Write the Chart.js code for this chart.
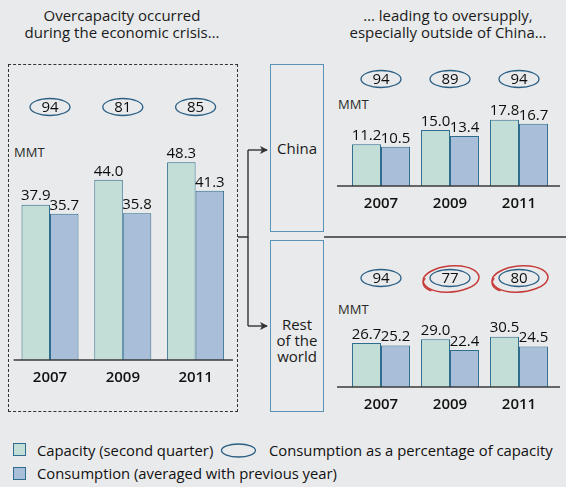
<!DOCTYPE html>
<html>
<head>
<meta charset="utf-8">
<script src="https://cdn.jsdelivr.net/npm/chart.js@4.4.0/dist/chart.umd.min.js"></script>
<style>
  body { margin: 0; background: #e9eaeb; font-family: "Open Sans", sans-serif; color: #111; }
  #wrap { position: relative; width: 566px; height: 487px; overflow: hidden; }
  .abs { position: absolute; }
  canvas { position: absolute; }
  .title { font-size: 15px; line-height: 17px; text-align: center; color: #1a1a1a; }
  .mmt { font-size: 13px; color: #2a2a2a; }
  .box { box-sizing: border-box; border: 1.5px solid #5a93b5; }
  .lg { font-size: 14.8px; color: #111; white-space: nowrap; }
  .sw { position: absolute; width: 13px; height: 13px; box-sizing: border-box; border: 1px solid #2f6d8f; }
</style>
</head>
<body>
<div id="wrap">
  <div class="abs title" style="left:2px;top:7px;width:240px;">Overcapacity occurred<br>during the economic crisis…</div>
  <div class="abs title" style="left:318px;top:7px;width:260px;">… leading to oversupply,<br>especially outside of China…</div>

  <div class="abs" style="left:8px;top:64px;width:230px;height:348px;box-sizing:border-box;border:1.3px dashed #333;"></div>
  <div class="abs box" style="left:270px;top:64px;width:54px;height:168px;"></div>
  <div class="abs box" style="left:270px;top:240px;width:54px;height:172px;"></div>
  <div class="abs title" style="left:270px;top:140px;width:54px;font-size:15px;">China</div>
  <div class="abs title" style="left:270px;top:316px;width:54px;font-size:15px;line-height:16px;">Rest<br>of the<br>world</div>

  <svg class="abs" style="left:0;top:0" width="566" height="487">
    <defs>
      <marker id="ar" markerWidth="8" markerHeight="8" refX="7" refY="4" orient="auto" markerUnits="userSpaceOnUse">
        <path d="M0,0 L8,4 L0,8 L2,4 z" fill="#333"/>
      </marker>
    </defs>
    <g stroke="#333" stroke-width="1.4" fill="none">
      <path d="M238,237 H248 V150"/>
      <path d="M248,237 V326"/>
      <path d="M248,150 H267" marker-end="url(#ar)"/>
      <path d="M248,326 H267" marker-end="url(#ar)"/>
      <path d="M324,237 H566" stroke-width="1.5"/>
    </g>
    <ellipse cx="238.5" cy="450.5" rx="17" ry="6.5" fill="none" stroke="#2b5f85" stroke-width="1.3"/>
  </svg>

  <div class="abs mmt" style="left:14px;top:143px;">MMT</div>
  <div class="abs mmt" style="left:338px;top:95px;">MMT</div>
  <div class="abs mmt" style="left:338px;top:300px;">MMT</div>

  <canvas id="cTotal" width="250" height="310" style="left:0;top:90px;"></canvas>
  <canvas id="cChina" width="246" height="160" style="left:320px;top:60px;"></canvas>
  <canvas id="cRow" width="246" height="175" style="left:320px;top:245px;"></canvas>

  <div class="sw" style="left:13px;top:443px;background:#c2ded6;"></div>
  <div class="abs lg" style="left:37px;top:440px;">Capacity (second quarter)</div>
  <div class="abs lg" style="left:269px;top:440px;">Consumption as a percentage of capacity</div>
  <div class="sw" style="left:13px;top:467px;background:#a9bfd9;"></div>
  <div class="abs lg" style="left:37px;top:463px;">Consumption (averaged with previous year)</div>
</div>

<script>
  const years = ['2007', '2009', '2011'];

  // mundo total
  const totalCapacity = [37.9, 44.0, 48.3];
  const totalConsumption = [35.7, 35.8, 41.3];
  const totalUtil = [94, 81, 85];

  // China
  const chinaCapacity = [11.2, 15.0, 17.8];
  const chinaConsumption = [10.5, 13.4, 16.7];
  const chinaUtil = [94, 89, 94];

  // resto del mundo
  const rowCapacity = [26.7, 29.0, 30.5];
  const rowConsumption = [25.2, 22.4, 24.5];
  const rowUtil = [94, 77, 80];
  const rowCircled = [false, true, true];

  const FONT = '"Open Sans", sans-serif';

  // eje, etiquetas de valor y óvalos de porcentaje
  const barDeco = {
    id: 'barDeco',
    afterDatasetsDraw(chart, args, o) {
      const ctx = chart.ctx, a = chart.chartArea, xs = chart.scales.x;
      ctx.save();
      ctx.strokeStyle = '#3a3a3a';
      ctx.lineWidth = 1.5;
      ctx.beginPath();
      ctx.moveTo(a.left - o.extL, a.bottom);
      ctx.lineTo(a.right + o.extR, a.bottom);
      ctx.stroke();

      ctx.font = '15px ' + FONT;
      ctx.fillStyle = '#0d0d0d';
      ctx.textAlign = 'center';
      ctx.textBaseline = 'bottom';
      chart.data.datasets.forEach((ds, i) => {
        chart.getDatasetMeta(i).data.forEach((bar, j) => {
          ctx.fillText(ds.data[j].toFixed(1), bar.x, bar.y - 1);
        });
      });

      o.pct.forEach((p, j) => {
        const cx = xs.getPixelForValue(j), cy = o.ovalY;
        if (o.circled && o.circled[j]) {
          ctx.strokeStyle = '#c63c3a';
          ctx.lineWidth = 1.5;
          ctx.beginPath();
          ctx.ellipse(cx + 1, cy + 1, 28, 13, -0.08, 0.2, Math.PI * 2 + 0.2);
          ctx.stroke();
          ctx.beginPath();
          ctx.ellipse(cx, cy + 2, 27, 12, -0.14, 2.4, 3.6);
          ctx.stroke();
        }
        ctx.strokeStyle = '#2b5f85';
        ctx.lineWidth = 1.3;
        ctx.beginPath();
        ctx.ellipse(cx, cy, 20, 8.5, 0, 0, Math.PI * 2);
        ctx.stroke();
        ctx.fillStyle = '#0d0d0d';
        ctx.textBaseline = 'middle';
        ctx.fillText(String(p), cx, cy + 1);
      });
      ctx.restore();
    }
  };

  function makeChart(id, cap, cons, pct, o) {
    new Chart(document.getElementById(id), {
      type: 'bar',
      data: {
        labels: years,
        datasets: [
          { label: 'Capacity (second quarter)', data: cap, backgroundColor: '#c2ded6', borderColor: '#2f6d8f', borderWidth: 1 },
          { label: 'Consumption (averaged with previous year)', data: cons, backgroundColor: '#a9bfd9', borderColor: '#2f6d8f', borderWidth: 1 }
        ]
      },
      options: {
        responsive: false,
        animation: false,
        categoryPercentage: o.catPct,
        barPercentage: 1,
        layout: { padding: o.pad },
        plugins: {
          legend: { display: false },
          tooltip: { enabled: false },
          barDeco: { pct, circled: o.circled, ovalY: o.ovalY, extL: o.extL, extR: o.extR }
        },
        scales: {
          x: {
            grid: { display: false, drawTicks: false },
            border: { display: false },
            ticks: { color: '#111', padding: 9, font: { family: FONT, size: 15, weight: '600' } },
            afterFit: s => { s.height = o.axisH; }
          },
          y: { display: false, min: 0, max: o.yMax }
        }
      },
      plugins: [barDeco]
    });
  }

  makeChart('cTotal', totalCapacity, totalConsumption, totalUtil, {
    catPct: 0.783, yMax: 62, axisH: 40,
    pad: { left: 13.6, right: 18, top: 16, bottom: 0 },
    ovalY: 17, extL: 0, extR: 1
  });
  makeChart('cChina', chinaCapacity, chinaConsumption, chinaUtil, {
    catPct: 0.84, yMax: 22, axisH: 34,
    pad: { left: 26.5, right: 12.5, top: 44, bottom: 0 },
    ovalY: 19, extL: 9.5, extR: 6.5
  });
  makeChart('cRow', rowCapacity, rowConsumption, rowUtil, {
    catPct: 0.84, yMax: 40, axisH: 33,
    pad: { left: 26.5, right: 12.5, top: 76, bottom: 0 },
    ovalY: 33, extL: 9.5, extR: 6.5, circled: rowCircled
  });
</script>
</body>
</html>
